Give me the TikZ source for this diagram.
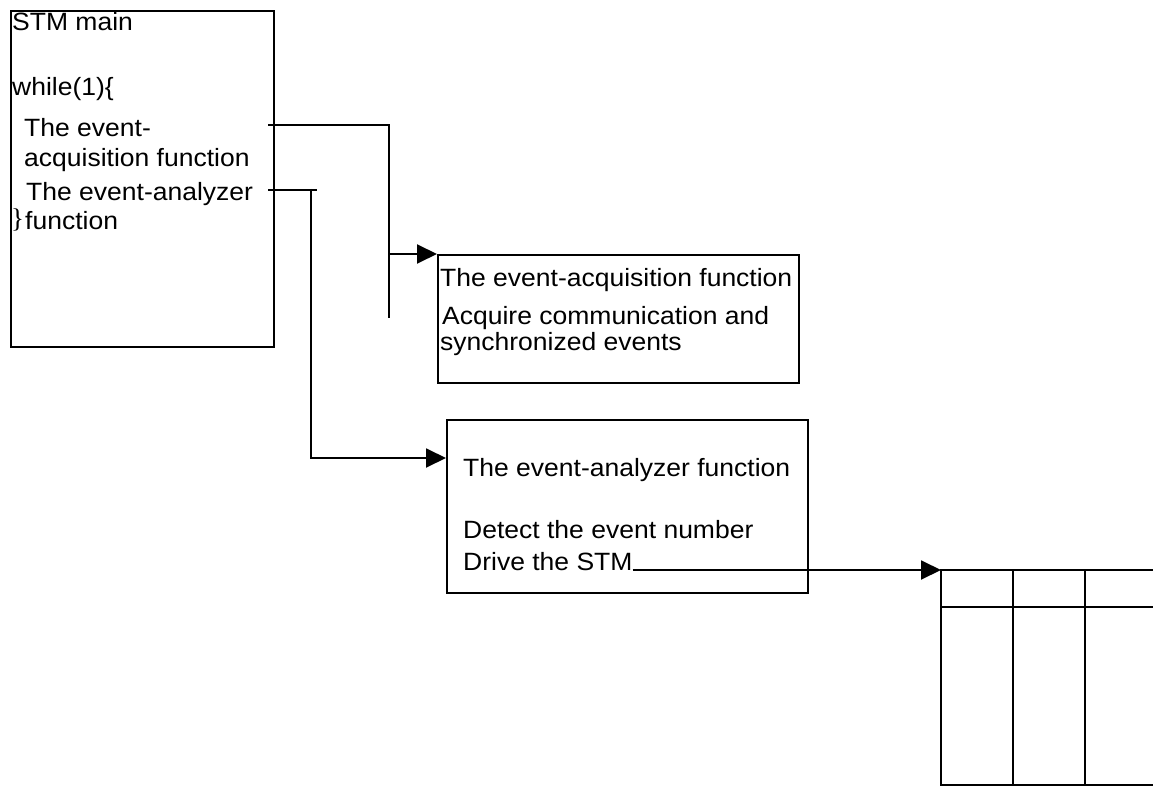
\documentclass[tikz,border=0pt]{standalone}
\usepackage{fontspec}
\setmainfont{Liberation Sans}[FakeStretch=1.06]
\newfontfamily\bracefont{Liberation Serif}
\usetikzlibrary{arrows.meta}
\begin{document}
\begin{tikzpicture}[x=1pt,y=-1pt,
  frame/.style={draw, line width=1.9pt, inner sep=0pt, anchor=north west},
  txt/.style={anchor=base west, inner sep=0pt, font=\fontsize{25}{30}\selectfont},
  wire/.style={line width=1.9pt},
  flow/.style={wire, -{Triangle[length=20pt,width=19pt]}},
  gridline/.style={line width=1.9pt}]
\useasboundingbox (0,0) rectangle (1153,786);

% STM main loop
\node[frame, minimum width=263pt, minimum height=336pt] (main) at (10,10) {};
\node[txt] (mTitle) at (12,31) {STM main};
\node[txt] (mWhile) at (12,96) {while(1)\{};
\node[txt] (mAcqA) at (24,137) {The event-};
\node[txt] (mAcqB) at (24,167) {acquisition function};
\node[txt] (mAnaA) at (26,201) {The event-analyzer};
\node[anchor=base west, inner sep=0pt, font=\bracefont\fontsize{27}{31}\selectfont] (mBrace) at (11,228) {\}};
\node[txt] (mAnaB) at (25,230) {function};

% event-acquisition function
\node[frame, minimum width=361pt, minimum height=128pt] (acq) at (437,254) {};
\node[txt] (acqTitle) at (440,287) {The event-acquisition function};
\node[txt] (acqA) at (442,324) {Acquire communication and};
\node[txt] (acqB) at (440,350) {synchronized events};

% event-analyzer function
\node[frame, minimum width=361pt, minimum height=173pt] (ana) at (446,419) {};
\node[txt] (anaTitle) at (463,476) {The event-analyzer function};
\node[txt] (anaA) at (463,538) {Detect the event number};
\node[txt] (anaB) at (463,570) {Drive the STM};

% state table
\coordinate (tNW) at (941,570);
\coordinate (tC1) at (1013,570);
\coordinate (tC2) at (1085,570);
\coordinate (tR) at (1160,570);
\draw[gridline] (tR) -- (tNW) -- (tNW |- 0,785) -- (tR |- 0,785);
\draw[gridline] (tNW |- 0,607) -- (tR |- 0,607);
\draw[gridline] (tC1) -- (tC1 |- 0,785);
\draw[gridline] (tC2) -- (tC2 |- 0,785);

% call from the loop to the acquisition function
\coordinate (jAcqS) at (268,125);
\coordinate (jAcqE) at (389,318);
\coordinate (jAcqB) at (389,254);
\draw[wire] (jAcqS) -| (jAcqE);
\draw[flow] (jAcqB) -- (acq.north west);

% call from the loop to the analyzer function
\coordinate (jAnaS) at (268,190);
\coordinate (jAnaT) at (317,190);
\coordinate (jAnaV) at (311,189);
\coordinate (jAnaD) at (311,458);
\draw[wire] (jAnaS) -- (jAnaT);
\draw[flow] (jAnaV) -- (jAnaD) -- (ana.west |- jAnaD);

% analyzer drives the state table
\draw[flow] (anaB.base east) -- (tNW);
\end{tikzpicture}
\end{document}
